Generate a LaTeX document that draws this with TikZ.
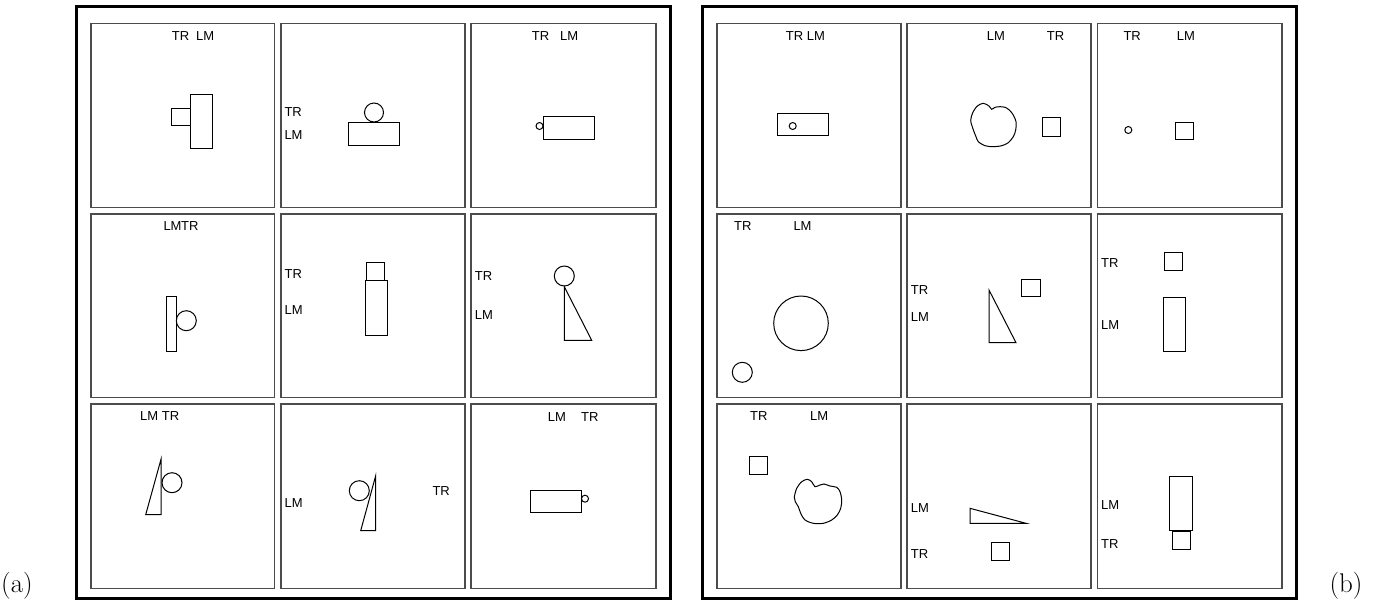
\documentclass[tikz,border=0pt]{standalone}
\usepackage{fontspec}
\newfontfamily\labfont{Liberation Sans}
\begin{document}
\begin{tikzpicture}[x=1pt,y=-1pt,
  frame/.style={line width=3pt},
  panel/.style={line width=1.4pt, draw=black!70},
  shp/.style={line width=1pt},
  lab/.style={inner sep=0pt, anchor=west, font=\labfont\fontsize{13}{14}\selectfont},
  captxt/.style={inner sep=0pt, anchor=base, font=\fontsize{27}{30}\selectfont}]
\useasboundingbox (0,0) rectangle (1379,600);
% outer frames
\draw[frame] (76,6) rectangle (670,598);
\draw[frame] (702.5,6) rectangle (1296,598);
% panels
\foreach \xa/\xb in {91/274.5,281/465,471/656,717/901,907/1091,1097.5/1282}{
  \foreach \ya/\yb in {23.3/207.3,214/397.5,404/588.3}{
    \draw[panel] (\xa,\ya) rectangle (\xb,\yb);
  }
}
% captions
\node[captxt] (capa) at (17,592) {(a)};
\node[captxt] (capb) at (1346,592) {(b)};

% ---------- left (a) ----------
% L11
\node[lab] (l11tr) at (171.7,36) {TR};
\node[lab] (l11lm) at (196,36) {LM};
\draw[shp] (190,94.7) rectangle (212.7,148.7);
\draw[shp] (171.7,108) rectangle (190,125.7);
% L12
\node[lab] (l12tr) at (284.3,112) {TR};
\node[lab] (l12lm) at (284.3,135) {LM};
\draw[shp] (374,112.5) circle[radius=9.5pt];
\draw[shp] (348.3,122.5) rectangle (399.3,145);
% L13
\node[lab] (l13tr) at (531.7,36) {TR};
\node[lab] (l13lm) at (560,36) {LM};
\draw[shp] (539.5,126) circle[radius=3.5pt];
\draw[shp] (543.3,116.7) rectangle (594.3,139);
% L21
\node[lab] (l21lm) at (163.3,226) {LM};
\node[lab] (l21tr) at (181,226) {TR};
\draw[shp] (166.7,296) rectangle (176,351.7);
\draw[shp] (186.3,320.7) circle[radius=10pt];
% L22
\node[lab] (l22tr) at (284.5,274) {TR};
\node[lab] (l22lm) at (284.5,310) {LM};
\draw[shp] (366.7,262.7) rectangle (384,280.5);
\draw[shp] (365.3,280.7) rectangle (387.7,335.7);
% L23
\node[lab] (l23tr) at (474.7,276.3) {TR};
\node[lab] (l23lm) at (474.7,314.7) {LM};
\draw[shp] (564.3,276) circle[radius=10pt];
\draw[shp] (564.3,286.7) -- (564.3,340.3) -- (591.7,340.3) -- cycle;
% L31
\node[lab] (l31lm) at (140,416) {LM};
\node[lab] (l31tr) at (161.7,416) {TR};
\draw[shp] (161,459.3) -- (145.7,514.7) -- (161,514.7) -- cycle;
\draw[shp] (172,482.7) circle[radius=10pt];
% L32
\node[lab] (l32lm) at (284.5,503.3) {LM};
\node[lab] (l32tr) at (432.3,491) {TR};
\draw[shp] (359.3,490.7) circle[radius=10pt];
\draw[shp] (375.7,475.7) -- (360.7,530.7) -- (375.7,530.7) -- cycle;
% L33
\node[lab] (l33lm) at (547.7,416.7) {LM};
\node[lab] (l33tr) at (581,416.7) {TR};
\draw[shp] (530,490) rectangle (581,512.3);
\draw[shp] (585,498.7) circle[radius=3.5pt];

% ---------- right (b) ----------
% R11
\node[lab] (r11tr) at (785.7,36) {TR};
\node[lab] (r11lm) at (806.7,36) {LM};
\draw[shp] (777.7,113.3) rectangle (828.3,135.7);
\draw[shp] (792.7,126) circle[radius=3.5pt];
% R12
\node[lab] (r12lm) at (986.7,36) {LM};
\node[lab] (r12tr) at (1046.7,36) {TR};
\draw[shp] plot[smooth cycle, tension=0.5] coordinates {
 (972.7,112.7) (977.3,106) (983.3,103.3) (989,106) (991.7,109.3) (995,107.3)
 (1000,106.7) (1005,107.3) (1009.3,110) (1013.3,115) (1016,121.7) (1015.7,130)
 (1013.3,136.7) (1008.3,142.7) (1001.7,145.7) (993.3,146.7) (985,145.7)
 (978.3,141.7) (976,136.7) (974,131.7) (971.7,125) (970.7,120)};
\draw[shp] (1042.7,117.3) rectangle (1060.7,136);
% R13
\node[lab] (r13tr) at (1123.3,36) {TR};
\node[lab] (r13lm) at (1176.7,36) {LM};
\draw[shp] (1128.3,130) circle[radius=3.5pt];
\draw[shp] (1175.3,122) rectangle (1193.3,139.3);
% R21
\node[lab] (r21tr) at (734,226) {TR};
\node[lab] (r21lm) at (793.3,226) {LM};
\draw[shp] (801,323.3) circle[radius=27.3pt];
\draw[shp] (742.3,372.3) circle[radius=10pt];
% R22
\node[lab] (r22tr) at (910.7,290) {TR};
\node[lab] (r22lm) at (910.7,316.7) {LM};
\draw[shp] (989,290) -- (989,342.7) -- (1016,342.7) -- cycle;
\draw[shp] (1021.7,279) rectangle (1040,296.7);
% R23
\node[lab] (r23tr) at (1101,263.3) {TR};
\node[lab] (r23lm) at (1101,325.3) {LM};
\draw[shp] (1164.3,252.7) rectangle (1182.3,270.7);
\draw[shp] (1163.3,297.3) rectangle (1185.7,351.7);
% R31
\node[lab] (r31tr) at (750,416) {TR};
\node[lab] (r31lm) at (810,416) {LM};
\draw[shp] (749.3,456.7) rectangle (767.3,474.3);
\draw[shp] plot[smooth cycle, tension=0.5] coordinates {
 (794.3,497.3) (796.7,488.3) (801.7,481.7) (807.3,479.3) (811.7,481.7) (815,486.7)
 (820,485) (824,484) (830,486) (836.7,487.3) (840,491.7) (841.7,500) (840.7,508.3)
 (837.3,515) (831.7,520) (823.3,523.3) (813.3,523.3) (805,520) (801,514)
 (798.3,506.7) (795.3,501.7)};
% R32
\node[lab] (r32lm) at (910.7,508.3) {LM};
\node[lab] (r32tr) at (910.7,554.3) {TR};
\draw[shp] (970,508.3) -- (970,523.3) -- (1026,523.3) -- cycle;
\draw[shp] (991,542.7) rectangle (1009.3,560.7);
% R33
\node[lab] (r33lm) at (1101,505) {LM};
\node[lab] (r33tr) at (1101,544) {TR};
\draw[shp] (1169.3,476.7) rectangle (1192,530.7);
\draw[shp] (1172,531.7) rectangle (1190,549.3);
\end{tikzpicture}
\end{document}
